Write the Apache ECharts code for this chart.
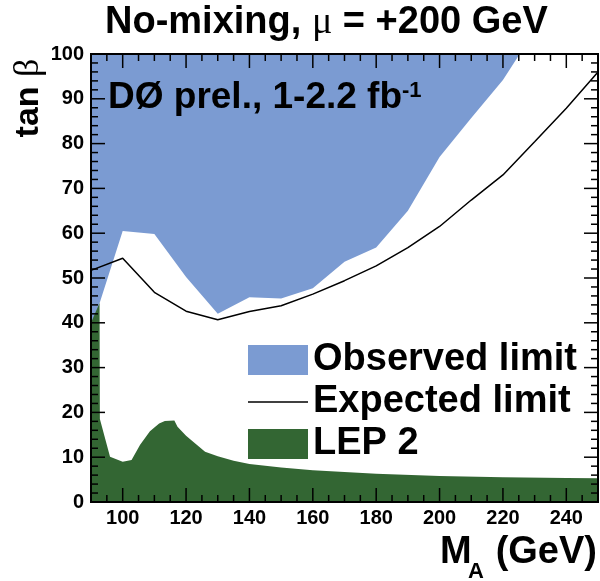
<!DOCTYPE html>
<html><head><meta charset="utf-8">
<script src="https://cdn.jsdelivr.net/npm/echarts@6/dist/echarts.min.js"></script>
<style>html,body{margin:0;padding:0;background:#fff}#c{width:600px;height:581px}</style>
</head><body><div id="c"></div>
<script>
// ---- data ----
const observedMA   = [90, 100, 110, 120, 130, 140, 150, 160, 170, 180, 190, 200, 210, 220, 225.3];
const observedTanB = [38.4, 60.5, 59.8, 50.2, 42.0, 45.7, 45.4, 47.7, 53.6, 56.8, 65.0, 77.0, 85.7, 94.2, 100];
const expectedMA   = [90, 100, 110, 120, 130, 140, 150, 160, 170, 180, 190, 200, 210, 220, 230, 240, 250];
const expectedTanB = [51.7, 54.4, 46.8, 42.6, 40.7, 42.5, 43.8, 46.4, 49.4, 52.7, 56.8, 61.5, 67.4, 73.0, 80.4, 87.9, 96.0];
const lepMA   = [90, 92.7, 92.8, 96, 100, 102.8, 105.5, 108.6, 111.5, 113.3, 116.3, 117.3, 120, 122.8, 126, 130, 135, 140, 150, 160, 170, 180, 200, 220, 240, 250];
const lepTanB = [40.0, 44.4, 18.5, 10.1, 9.0, 9.4, 12.8, 15.8, 17.5, 18.1, 18.2, 16.8, 14.8, 13.1, 11.2, 10.2, 9.2, 8.5, 7.7, 7.1, 6.7, 6.3, 5.8, 5.5, 5.35, 5.3];
const xMajorTicks = [100, 120, 140, 160, 180, 200, 220, 240];
const xMinorTicks = [95, 105, 110, 115, 125, 130, 135, 145, 150, 155, 165, 170, 175, 185, 190, 195, 205, 210, 215, 225, 230, 235, 245];
const yMajorTicks = [10, 20, 30, 40, 50, 60, 70, 80, 90];
const yMinorTicks = [2, 4, 6, 8, 12, 14, 16, 18, 22, 24, 26, 28, 32, 34, 36, 38, 42, 44, 46, 48, 52, 54, 56, 58, 62, 64, 66, 68, 72, 74, 76, 78, 82, 84, 86, 88, 92, 94, 96, 98];
const seriesNames = ['Observed limit', 'Expected limit', 'LEP 2'];

const FONT = '"Liberation Sans", Arial, Helvetica, sans-serif';
const SERIF = '"Liberation Serif", "DejaVu Serif", serif';
const BLUE = '#7b9bd2', GREEN = '#336633';
const zip = (a, b) => a.map((v, i) => [v, b[i]]);

// frame/tick items: [x value, y value, kind (0 = x tick, 1 = y tick, 2 = frame), major flag]
const X_MIN = 90, X_MAX = 250, Y_MIN = 0, Y_MAX = 100;
const frameItems = []
  .concat(xMajorTicks.map(v => [v, Y_MIN, 0, 1]))
  .concat(xMinorTicks.map(v => [v, Y_MIN, 0, 0]))
  .concat(yMajorTicks.map(v => [X_MIN, v, 1, 1]))
  .concat(yMinorTicks.map(v => [X_MIN, v, 1, 0]))
  .concat([[X_MIN, Y_MIN, 2, 0]]);

function renderFrame(params, api) {
  const kind = api.value(2), major = api.value(3);
  const len = major ? 14 : 7, tw = 1.5;
  const lo = api.coord([X_MIN, Y_MIN]);   // left-bottom pixel
  const hi = api.coord([X_MAX, Y_MAX]);   // right-top pixel
  const st = { fill: '#000' };
  if (kind === 0) {
    const x = api.coord([api.value(0), Y_MIN])[0] - tw / 2;
    return { type: 'group', children: [
      { type: 'rect', shape: { x: x, y: lo[1] - len, width: tw, height: len }, style: st },
      { type: 'rect', shape: { x: x, y: hi[1], width: tw, height: len }, style: st } ] };
  }
  if (kind === 1) {
    const y = api.coord([X_MIN, api.value(1)])[1] - tw / 2;
    return { type: 'group', children: [
      { type: 'rect', shape: { x: lo[0], y: y, width: len, height: tw }, style: st },
      { type: 'rect', shape: { x: hi[0] - len, y: y, width: len, height: tw }, style: st } ] };
  }
  const w = hi[0] - lo[0], h = lo[1] - hi[1];
  return { type: 'group', children: [
    { type: 'rect', shape: { x: lo[0] - 1, y: hi[1] - 1, width: w + 2, height: 2 }, style: st },
    { type: 'rect', shape: { x: lo[0] - 1, y: lo[1] - 1, width: w + 2, height: 2 }, style: st },
    { type: 'rect', shape: { x: lo[0] - 1, y: hi[1] - 1, width: 2, height: h + 2 }, style: st },
    { type: 'rect', shape: { x: hi[0] - 1, y: hi[1] - 1, width: 2, height: h + 2 }, style: st } ] };
}

const chart = echarts.init(document.getElementById('c'));
chart.setOption({
  animation: false,
  backgroundColor: '#fff',
  grid: { left: 91, right: 2, top: 54, bottom: 79 },
  xAxis: {
    type: 'value', min: X_MIN, max: X_MAX, position: 'bottom',
    splitLine: { show: false }, axisLine: { show: false }, axisTick: { show: false },
    axisLabel: { show: true, customValues: xMajorTicks, margin: 6, color: '#000', fontSize: 20, fontWeight: 'bold', fontFamily: FONT }
  },
  yAxis: {
    type: 'value', min: Y_MIN, max: Y_MAX, interval: 10, position: 'left',
    splitLine: { show: false }, axisLine: { show: false }, axisTick: { show: false },
    axisLabel: { show: true, margin: 7, color: '#000', fontSize: 20, fontWeight: 'bold', fontFamily: FONT }
  },
  legend: {
    orient: 'vertical', left: 243, top: 336, itemWidth: 60, itemHeight: 30, itemGap: 4,
    selectedMode: false, z: 12,
    textStyle: { color: '#000', fontSize: 38, fontWeight: 'bold', fontFamily: FONT },
    data: [
      { name: seriesNames[0], icon: 'rect' },
      { name: seriesNames[1], icon: 'path://M0,0 L60,0 L60,1.6 L0,1.6 Z' },
      { name: seriesNames[2], icon: 'rect' }
    ]
  },
  series: [
    { name: seriesNames[0], type: 'line', data: zip(observedMA, observedTanB),
      symbol: 'none', color: BLUE, lineStyle: { width: 0 }, areaStyle: { color: BLUE, opacity: 1, origin: 'end' }, z: 1 },
    { name: seriesNames[2], type: 'line', data: zip(lepMA, lepTanB),
      symbol: 'none', color: GREEN, lineStyle: { width: 0 }, areaStyle: { color: GREEN, opacity: 1, origin: 'start' }, z: 2 },
    { name: seriesNames[1], type: 'line', data: zip(expectedMA, expectedTanB),
      symbol: 'none', color: '#000', lineStyle: { width: 1.5, color: '#000' }, z: 3 },
    { name: 'frame', type: 'custom', data: frameItems, renderItem: renderFrame,
      silent: true, clip: false, z: 15, animation: false }
  ],
  graphic: [
    { type: 'text', x: 105, y: 23, z: 20, style: {
        text: 'No-mixing, {mu|μ} = +200 GeV', fill: '#000', fontSize: 38, fontWeight: 'bold', fontFamily: FONT,
        align: 'left', verticalAlign: 'middle',
        rich: { mu: { fontFamily: SERIF, fontWeight: 'normal', fontSize: 38, fill: '#000' } } } },
    { type: 'text', x: 108, y: 98, z: 20, style: {
        text: 'DØ prel., 1-2.2 fb{sup|-1}', fill: '#000', fontSize: 37, fontWeight: 'bold', fontFamily: FONT,
        align: 'left', verticalAlign: 'middle',
        rich: { sup: { fontSize: 22, fontWeight: 'bold', fontFamily: FONT, verticalAlign: 'top', fill: '#000' } } } },
    { type: 'text', x: 29, y: 98, rotation: Math.PI / 2, z: 20, style: {
        text: 'tan {b|β}', fill: '#000', fontSize: 34, fontWeight: 'bold', fontFamily: FONT,
        align: 'center', verticalAlign: 'middle',
        rich: { b: { fontFamily: SERIF, fontWeight: 'normal', fontSize: 36, fill: '#000' } } } },
    { type: 'text', x: 440, y: 553, z: 20, style: { text: 'M', fill: '#000', fontSize: 38, fontWeight: 'bold', fontFamily: FONT, align: 'left', verticalAlign: 'middle' } },
    { type: 'text', x: 468, y: 572, z: 20, style: { text: 'A', fill: '#000', fontSize: 22, fontWeight: 'bold', fontFamily: FONT, align: 'left', verticalAlign: 'middle' } },
    { type: 'text', x: 597, y: 553, z: 20, style: { text: '(GeV)', fill: '#000', fontSize: 38, fontWeight: 'bold', fontFamily: FONT, align: 'right', verticalAlign: 'middle' } }
  ]
});
</script></body></html>
